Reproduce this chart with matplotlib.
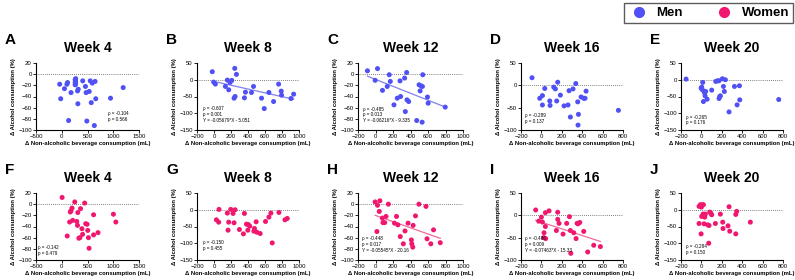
import matplotlib
matplotlib.use('Agg')
import matplotlib.pyplot as plt
from matplotlib.lines import Line2D

plt.rcParams['font.family'] = ['Liberation Sans', 'DejaVu Sans']

MEN = '#5050f5'
WOMEN = '#f0186e'
MEN_LINE = '#8080f0'
WOMEN_LINE = '#f06a9a'

# Men
a_x = [-40, -20, 53, 100, 113, 133, 180, 260, 260, 260, 270, 270, 270, 307, 320, 313, 407, 460, 473, 487,
       533, 553, 573, 593, 633, 647, 660, 947, 1193]
a_y = [-18, -44, -26, -18, -15, -83, -33, -15, -10, -19, -8, -13, -18, -30, -27, -53, -12, -22, -33, -84,
       -31, -12, -51, -16, -92, -13, -44, -43, -24]
b_x = [-20, -4, 16, 134, 157, 173, 189, 209, 244, 264, 236, 248, 358, 370, 465, 441, 559, 591, 646, 701,
       760, 791, 795, 906, 937]
b_y = [24, -7, -13, -20, -1, -30, -8, -2, 34, 16, -55, -50, -54, -37, -20, -38, -55, -86, -38, -65,
       -13, -34, -46, -56, -43]
c_x = [-92, 23, -4, 80, 157, 169, 134, 211, 249, 287, 280, 333, 356, 360, 379, 341, 471, 540, 498, 521,
       536, 510, 533, 594, 602, 797]
c_y = [6, 10, -11, -29, -1, -13, -22, -55, -43, -40, -12, -7, 3, -46, -49, -67, -83, -1, -19, -21,
       -22, -30, -86, -41, -52, -59]
d_x = [-92, 33, -16, 10, 10, 82, 85, 121, 137, 150, 160, 186, 222, 261, 271, 284, 310, 337, 356, 363,
       359, 389, 415, 428, 438, 755]
d_y = [17, -7, -29, -23, -44, -35, -45, -4, -8, -35, 7, -22, -46, -44, -12, -71, -8, 4, -37, -65,
       -89, -26, -29, -29, -13, -56]
e_x = [-150, -3, 13, 3, 10, 29, 42, 20, 36, 56, 101, 141, 160, 173, 180, 186, 206, 235, 216, 225,
       173, 271, 324, 350, 373, 376, 758]
e_y = [2, -25, -8, -22, -30, -38, -35, -65, -48, -58, -31, -5, -3, -56, -50, -48, 3, 0, -20, -35,
       -3, -96, -20, -75, -18, -60, -59]

# Women
f_x = [7, 252, 445, 365, 199, 179, 166, 312, 618, 1003, 1050, 153, 213, 292, 306, 465, 492, 392, 505, 405,
       106, 332, 352, 518, 618, 704, 531]
f_y = [12, 4, 2, -8, -7, -12, -14, -15, -19, -18, -32, -32, -29, -31, -38, -35, -36, -44, -47, -54,
       -57, -61, -60, -60, -55, -51, -79]
g_x = [59, 28, 55, 157, 173, 197, 224, 236, 248, 165, 299, 346, 358, 382, 402, 421, 398, 469, 476, 496,
       504, 543, 606, 646, 669, 685, 764, 835, 862]
g_y = [1, -30, -37, -10, -37, 1, -11, -39, 0, -61, -59, -72, -11, -43, -44, -49, -61, -64, -56, -36,
       -67, -71, -35, -22, -10, -99, -8, -30, -26]
h_x = [-4, 23, 50, 43, 147, 78, 85, 105, 16, 120, 217, 240, 256, 283, 337, 318, 372, 426, 430, 457,
       410, 415, 496, 577, 589, 632, 663, 740]
h_y = [4, -2, 6, -13, 0, -25, -33, -33, -49, -22, -34, -22, -37, -58, -48, -71, -34, -77, -38, -21,
       -64, -71, 0, -4, -62, -71, -46, -69]
i_x = [-56, -26, 0, 10, 39, 75, 39, 26, 23, 42, 160, 160, 173, 147, 212, 248, 275, 284, 317, 340,
       350, 359, 376, 415, 288, 454, 513, 578]
i_y = [12, -13, -4, -15, 6, 10, -25, -39, -50, -52, 7, -9, -18, -34, -42, -18, -3, -34, -39, -52,
       -18, -19, -16, -36, -85, -82, -67, -70]
j_x = [-23, 0, 10, 20, -10, 16, 26, 39, 33, 3, -23, -3, 26, 62, 75, 82, 92, 101, 137, 186,
       209, 212, 261, 278, 271, 337, 346, 337, 480, 72]
j_y = [10, 8, 15, 15, 15, -13, -18, -13, -22, -20, -41, -72, -42, -45, -47, -7, -10, -15, -41, -13,
       -37, -56, -48, -64, 9, -14, -5, -72, -37, -100]

panels = [
    # letter, title, x, y, colour, x range, y range, stats text, text pos, fit (slope, intercept, x0, x1)
    ('A', 'Week 4', a_x, a_y, MEN, (-500, 1500, 500), (-100, 20, 20),
     'ρ = -0.104\np = 0.566', (900, -86), None),
    ('B', 'Week 8', b_x, b_y, MEN, (-200, 1000, 200), (-150, 50, 50),
     'ρ = -0.607\np = 0.001\nY = -0.05679*X - 5.051', (-130, -128), (-0.05679, -5.051, -20, 937)),
    ('C', 'Week 12', c_x, c_y, MEN, (-200, 1000, 200), (-100, 20, 20),
     'ρ = -0.485\np = 0.013\nY = -0.06216*X - 9.335', (-140, -88), (-0.06216, -9.335, -92, 797)),
    ('D', 'Week 16', d_x, d_y, MEN, (-200, 800, 200), (-100, 50, 50),
     'ρ = -0.289\np = 0.137', (-160, -86), None),
    ('E', 'Week 20', e_x, e_y, MEN, (-200, 800, 200), (-150, 50, 50),
     'ρ = -0.265\np = 0.176', (-150, -136), None),
    ('F', 'Week 4', f_x, f_y, WOMEN, (-500, 1500, 500), (-100, 20, 20),
     'ρ = -0.142\np = 0.479', (-470, -93), None),
    ('G', 'Week 8', g_x, g_y, WOMEN, (-200, 1000, 200), (-150, 50, 50),
     'ρ = -0.150\np = 0.455', (-125, -124), None),
    ('H', 'Week 12', h_x, h_y, WOMEN, (-200, 1000, 200), (-100, 20, 20),
     'ρ = -0.448\np = 0.017\nY = -0.05545*X - 20.16', (-150, -87), (-0.05545, -20.16, -4, 740)),
    ('I', 'Week 16', i_x, i_y, WOMEN, (-200, 800, 200), (-100, 50, 50),
     'ρ = -0.486\np = 0.009\nY = -0.07463*X - 15.33', (-160, -84), (-0.07463, -15.33, -56, 578)),
    ('J', 'Week 20', j_x, j_y, WOMEN, (-200, 800, 200), (-150, 50, 50),
     'ρ = -0.284\np = 0.150', (-155, -135), None),
]

W, H = 795, 280
fig = plt.figure(figsize=(W / 100, H / 100), dpi=100)

lefts = [36, 197, 358, 521, 681]
rights = [139, 299, 463, 623, 783]
tops = [63, 193]
bottoms = [130, 260]

for k, (letter, title, xs, ys, col, xl, yl, txt, tpos, fit) in enumerate(panels):
    r, c = divmod(k, 5)
    ax = fig.add_axes([lefts[c] / W, 1 - bottoms[r] / H,
                       (rights[c] - lefts[c]) / W, (bottoms[r] - tops[r]) / H])
    ax.axhline(0, color='#555555', lw=0.6, ls=(0, (1, 1.5)), zorder=1)
    if fit is not None:
        m, b0, x0, x1 = fit
        lc = MEN_LINE if col == MEN else WOMEN_LINE
        ax.plot([x0, x1], [m * x0 + b0, m * x1 + b0], color=lc, lw=0.9, zorder=2)
    ax.scatter(xs, ys, s=13, color=col, edgecolors='none', zorder=3)
    ax.set_xlim(xl[0], xl[1])
    ax.set_ylim(yl[0], yl[1])
    ax.set_xticks(range(xl[0], xl[1] + 1, xl[2]))
    ax.set_yticks(range(yl[0], yl[1] + 1, yl[2]))
    for s in ['top', 'right']:
        ax.spines[s].set_visible(False)
    for s in ['left', 'bottom']:
        ax.spines[s].set_linewidth(0.8)
    ax.tick_params(labelsize=4.3, length=2, width=0.6, pad=1)
    ax.set_xlabel('Δ Non-alcoholic beverage consumption (mL)', fontsize=4.2, fontweight='bold', labelpad=1.5)
    ax.set_ylabel('Δ Alcohol consumption (%)', fontsize=4.2, fontweight='bold', labelpad=1.5)
    ax.set_title(title, fontsize=10, fontweight='bold', pad=8)
    ax.text(tpos[0], tpos[1], txt, fontsize=3.3, va='bottom', ha='left', linespacing=1.2)
    fig.text((lefts[c] - 31) / W, 1 - (tops[r] - 23) / H, letter, fontsize=11,
             fontweight='bold', va='center', ha='left')

# legend box
handles = [Line2D([], [], marker='o', ls='none', color=MEN, markersize=7, label='Men'),
           Line2D([], [], marker='o', ls='none', color=WOMEN, markersize=7, label='Women')]
fig.legend(handles=handles, loc='upper right', bbox_to_anchor=(793 / W, 1 - 3 / H), ncol=2,
           frameon=True, fancybox=False, edgecolor='#333333', handletextpad=0.5,
           columnspacing=2.4, borderpad=0.3, borderaxespad=0, handlelength=1.6,
           prop={'weight': 'bold', 'size': 9.5})

fig.savefig('out.png', dpi=100)
